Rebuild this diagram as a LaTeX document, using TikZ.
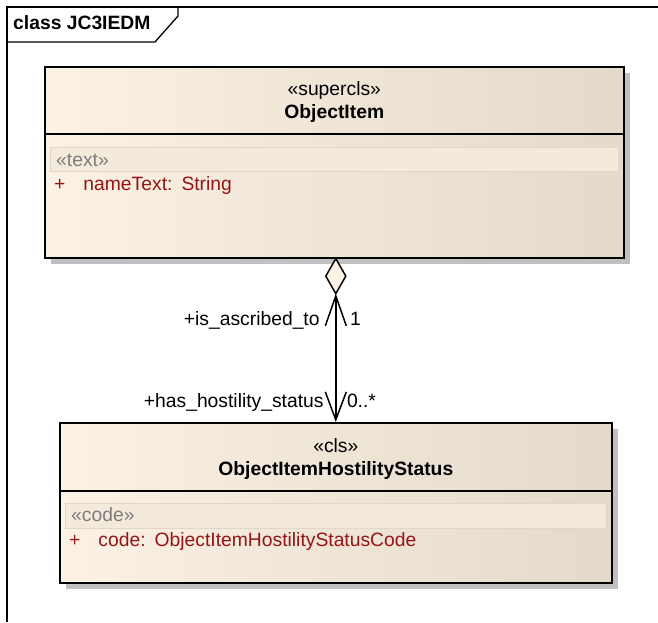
\documentclass[tikz,border=0pt]{standalone}
\usepackage{fontspec}
\setmainfont{Liberation Sans}
\usetikzlibrary{arrows.meta,shadows,calc}

\definecolor{classleft}{RGB}{251,241,228}
\definecolor{classright}{RGB}{227,218,203}
\definecolor{bandfill}{RGB}{243,234,220}
\definecolor{attrred}{RGB}{150,20,20}
\definecolor{taggray}{RGB}{125,125,125}
\definecolor{shadowgray}{RGB}{192,192,192}

\begin{document}
\begin{tikzpicture}[x=1pt,y=-1pt,
            every node/.style={font=\fontsize{19.3pt}{23pt}\selectfont,inner sep=0pt},
            classbox/.style={rectangle,draw,line width=1.6pt,left color=classleft,right color=classright,
                anchor=north west,drop shadow={shadow xshift=6pt,shadow yshift=-6pt,fill=shadowgray,opacity=1}},
            band/.style={fill=bandfill,draw=bandfill!92!black,line width=0.6pt},
            stereo/.style={anchor=base},
            classname/.style={anchor=base,font=\fontsize{19.3pt}{23pt}\selectfont\bfseries},
            tag/.style={anchor=base west,text=taggray},
            attr/.style={anchor=base west,text=attrred},
            role/.style={font=\fontsize{19.3pt}{23pt}\selectfont},
            assoc/.style={line width=1.5pt,{Straight Barb[length=30pt,width=21pt]}-{Straight Barb[length=28pt,width=21pt]}}]

        \useasboundingbox (0,0) rectangle (658,622);

        % Define frame
        \draw[line width=1.3pt] (7,622) -- (7,7) -- (658,7);
        \draw[line width=1.3pt] (178,7) -- (178,16) -- (155,42) -- (7,42);
        \node[anchor=base west,font=\fontsize{19.3pt}{23pt}\selectfont\bfseries] (frametitle) at (13,29.5) {class JC3IEDM};

        % Define classes
        \node[classbox,minimum width=579pt,minimum height=191pt] (item) at (44,66) {};
        \node[classbox,minimum width=552pt,minimum height=160pt] (status) at (59,422) {};

        % Compartments
        \draw[line width=1.6pt] ([yshift=-68pt]item.north west) -- ([yshift=-68pt]item.north east);
        \draw[band] ([xshift=6pt,yshift=-81pt]item.north west) rectangle ([xshift=-6pt,yshift=-105pt]item.north east);
        \draw[line width=1.6pt] ([yshift=-69pt]status.north west) -- ([yshift=-69pt]status.north east);
        \draw[band] ([xshift=6pt,yshift=-81pt]status.north west) rectangle ([xshift=-6pt,yshift=-106pt]status.north east);

        % Texts of ObjectItem
        \node[stereo] (itemstereo) at ([yshift=-29pt]item.north) {«supercls»};
        \node[classname] (itemname) at ([yshift=-52pt]item.north) {ObjectItem};
        \node[tag] (itemtag) at ([xshift=12pt,yshift=-100.5pt]item.north west) {«text»};
        \node[attr] (itemattr) at ([xshift=10pt,yshift=-124pt]item.north west) {+\hspace{18pt}nameText:\hspace{9pt}String};

        % Texts of ObjectItemHostilityStatus
        \node[stereo] (statusstereo) at ([yshift=-30pt]status.north) {«cls»};
        \node[classname] (statusname) at ([yshift=-53pt]status.north) {ObjectItemHostilityStatus};
        \node[tag] (statustag) at ([xshift=12pt,yshift=-99.5pt]status.north west) {«code»};
        \node[attr] (statusattr) at ([xshift=10pt,yshift=-124.5pt]status.north west) {+\hspace{18pt}code:\hspace{9pt}ObjectItemHostilityStatusCode};

        % Draw association
        \coordinate (dtop) at (status.north |- item.south);
        \coordinate (dbot) at ($(dtop)+(0,35)$);
        \draw[line width=1.5pt,fill=classleft] (dtop) -- ++(10,17.5) -- (dbot) -- ++(-10,-17.5) -- cycle;
        \draw[assoc] (dbot) -- (status.north);

        % Role labels
        \node[role,anchor=base east] (role1) at ($(dbot)+(-16,32)$) {+is\_ascribed\_to};
        \node[role,anchor=base west] (mult1) at ($(dbot)+(14,32)$) {1};
        \node[role,anchor=base east] (role2) at ($(status.north)+(-12,-15)$) {+has\_hostility\_status};
        \node[role,anchor=base west] (mult2) at ($(status.north)+(11,-15)$) {0..*};

\end{tikzpicture}
\end{document}
